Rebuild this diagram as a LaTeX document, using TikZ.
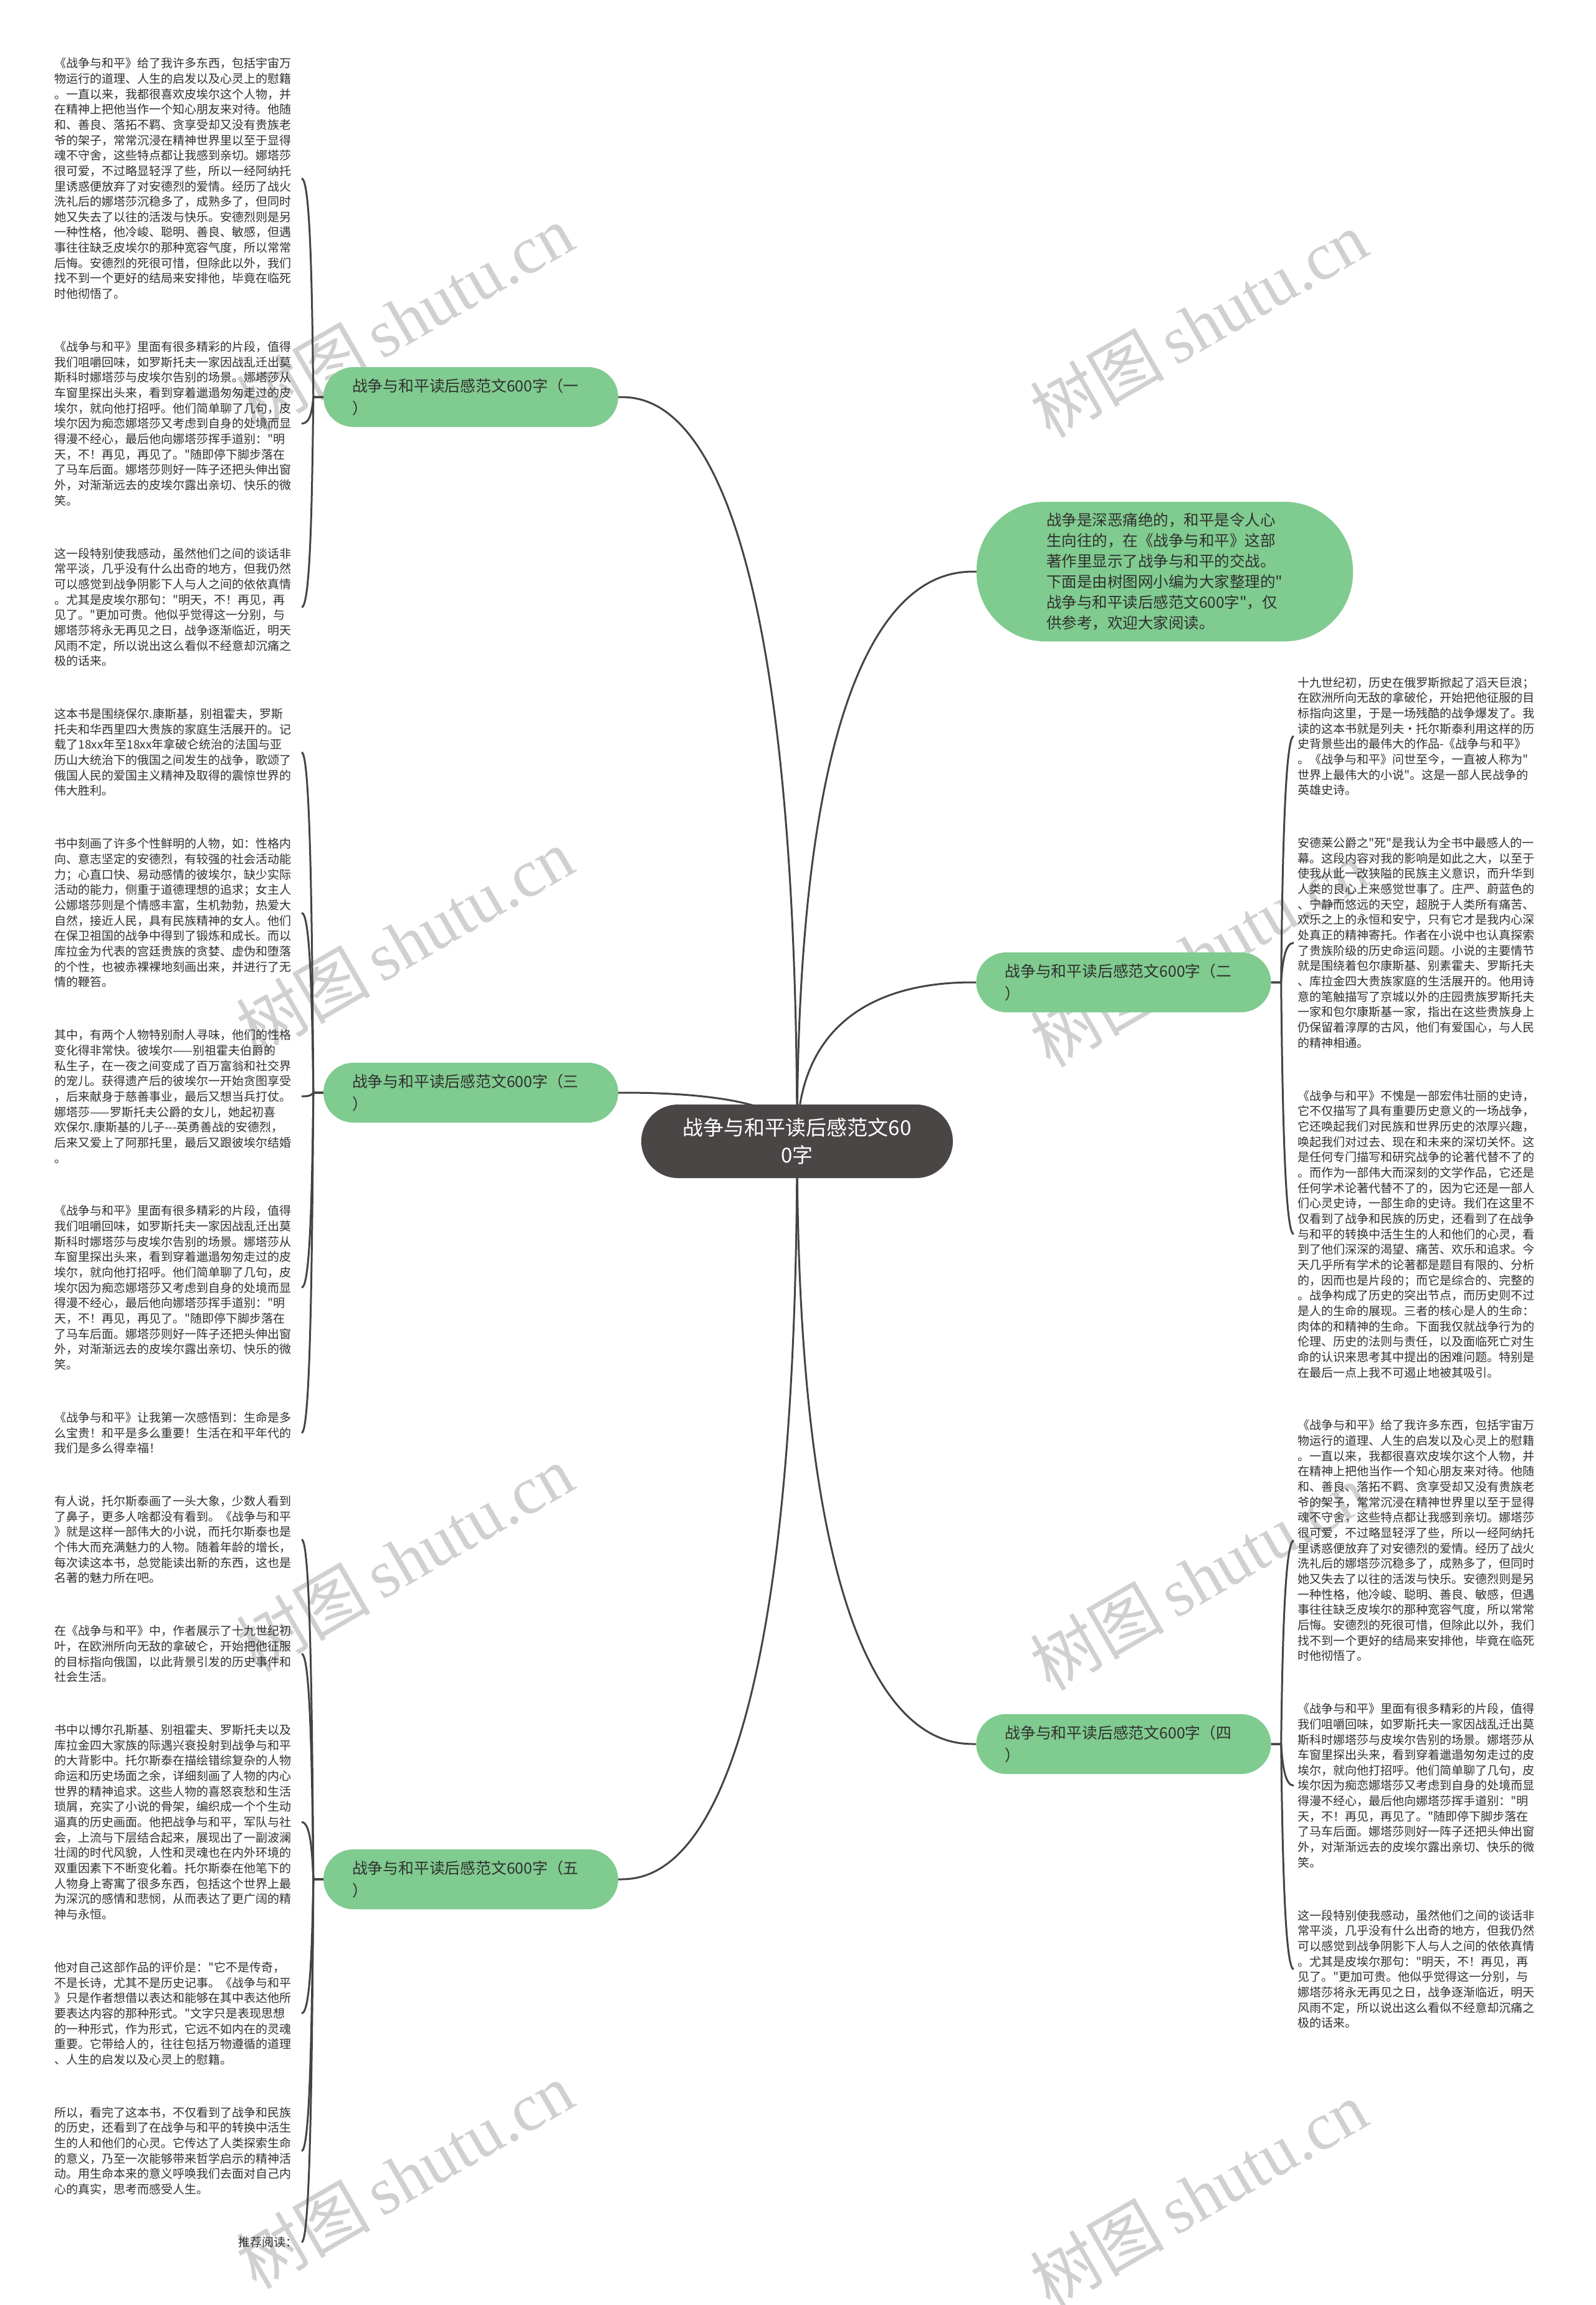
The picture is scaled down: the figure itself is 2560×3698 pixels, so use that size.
\documentclass[tikz,border=0pt]{standalone}
\usepackage{fontspec}
\setmainfont{Noto Sans CJK SC}[Ligatures=TeXOff]
\newfontfamily\wmserif{Liberation Serif}
\usetikzlibrary{calc}
\pgfdeclarelayer{bg}
\pgfsetlayers{bg,main}
\definecolor{linec}{RGB}{68,68,68}
\definecolor{branchg}{RGB}{128,203,143}
\definecolor{centerc}{RGB}{74,70,70}
\definecolor{textc}{RGB}{48,48,48}
\definecolor{wmc}{RGB}{208,208,208}
\tikzset{
  conn/.style={draw=linec, line width=3pt},
  leaf/.style={text=textc, font=\fontsize{19}{24.66}\selectfont, align=left, text width=390pt, inner xsep=6pt, inner ysep=0pt},
  leafshort/.style={text=textc, font=\fontsize{19}{24.66}\selectfont, inner xsep=6pt, inner ysep=0pt},
  branch/.style={fill=branchg, text=textc, font=\fontsize{24.8}{36}\selectfont, align=left, text width=381pt, inner xsep=46pt, inner ysep=0pt, minimum height=96pt, rounded corners=48pt},
  intro/.style={fill=branchg, text=textc, font=\fontsize{24.5}{33}\selectfont, align=left, text width=380pt, inner xsep=112pt, inner ysep=0pt, minimum height=224pt, rounded corners=110pt},
  central/.style={fill=centerc, text=white, font=\fontsize{33}{44}\selectfont, align=center, minimum width=500pt, minimum height=118pt, rounded corners=59pt},
  wm/.style={text=wmc, rotate=30, font=\fontsize{108}{108}\selectfont}
}
\newcommand\hubline[1]{\draw[conn] let \p1=(c.center), \p2=(#1) in (\p1) .. controls (\x1,\y2) and ({\x1+0.8*(\x2-\x1)},\y2) .. (\p2);}
\newcommand\leafL[2]{\draw[conn] let \p1=(#1.west), \p2=(#2.east) in (\p1) -- (\x1-16pt,\y1) .. controls (\x1-18pt,{0.5*(\y1+\y2)}) and (\x2+14pt,\y2) .. (\p2);}
\newcommand\leafR[2]{\draw[conn] let \p1=(#1.east), \p2=(#2.west) in (\p1) -- (\x1+16pt,\y1) .. controls (\x1+18pt,{0.5*(\y1+\y2)}) and (\x2-14pt,\y2) .. (\p2);}
\begin{document}
\begin{tikzpicture}[x=1pt,y=-1pt]
\useasboundingbox (0,0) rectangle (2560,3698);
\begin{pgfonlayer}{bg}
\fill[white] (0,0) rectangle (2560,3698);
\end{pgfonlayer}

% central and branches
\node[central] (c) at (1279,1831) {战争与和平读后感范文60\\0字};
\node[intro] (i) at (1869,917) {战争是深恶痛绝的，和平是令人心\\
生向往的，在《战争与和平》这部\\
著作里显示了战争与和平的交战。\\
下面是由树图网小编为大家整理的"\\
战争与和平读后感范文600字"，仅\\
供参考，欢迎大家阅读。};
\node[branch] (b1) at (755.5,637) {战争与和平读后感范文600字（一\\）};
\node[branch] (b2) at (1803,1576) {战争与和平读后感范文600字（二\\）};
\node[branch] (b3) at (755.5,1753) {战争与和平读后感范文600字（三\\）};
\node[branch] (b4) at (1803,2798) {战争与和平读后感范文600字（四\\）};
\node[branch] (b5) at (755.5,3015) {战争与和平读后感范文600字（五\\）};

% left leaves, branch one
\node[leaf, anchor=east] (l1) at (484,286.4) {《战争与和平》给了我许多东西，包括宇宙万\\
物运行的道理、人生的启发以及心灵上的慰籍\\
。一直以来，我都很喜欢皮埃尔这个人物，并\\
在精神上把他当作一个知心朋友来对待。他随\\
和、善良、落拓不羁、贪享受却又没有贵族老\\
爷的架子，常常沉浸在精神世界里以至于显得\\
魂不守舍，这些特点都让我感到亲切。娜塔莎\\
很可爱，不过略显轻浮了些，所以一经阿纳托\\
里诱惑便放弃了对安德烈的爱情。经历了战火\\
洗礼后的娜塔莎沉稳多了，成熟多了，但同时\\
她又失去了以往的活泼与快乐。安德烈则是另\\
一种性格，他冷峻、聪明、善良、敏感，但遇\\
事往往缺乏皮埃尔的那种宽容气度，所以常常\\
后悔。安德烈的死很可惜，但除此以外，我们\\
找不到一个更好的结局来安排他，毕竟在临死\\
时他彻悟了。};
\node[leaf, anchor=east] (l2) at (484,679.6) {《战争与和平》里面有很多精彩的片段，值得\\
我们咀嚼回味，如罗斯托夫一家因战乱迁出莫\\
斯科时娜塔莎与皮埃尔告别的场景。娜塔莎从\\
车窗里探出头来，看到穿着邋遢匆匆走过的皮\\
埃尔，就向他打招呼。他们简单聊了几句，皮\\
埃尔因为痴恋娜塔莎又考虑到自身的处境而显\\
得漫不经心，最后他向娜塔莎挥手道别："明\\
天，不！再见，再见了。"随即停下脚步落在\\
了马车后面。娜塔莎则好一阵子还把头伸出窗\\
外，对渐渐远去的皮埃尔露出亲切、快乐的微\\
笑。};
\node[leaf, anchor=east] (l3) at (484,974.1) {这一段特别使我感动，虽然他们之间的谈话非\\
常平淡，几乎没有什么出奇的地方，但我仍然\\
可以感觉到战争阴影下人与人之间的依依真情\\
。尤其是皮埃尔那句："明天，不！再见，再\\
见了。"更加可贵。他似乎觉得这一分别，与\\
娜塔莎将永无再见之日，战争逐渐临近，明天\\
风雨不定，所以说出这么看似不经意却沉痛之\\
极的话来。};

% left leaves, branch three
\node[leaf, anchor=east] (l4) at (484,1207.0) {这本书是围绕保尔.康斯基，别祖霍夫，罗斯\\
托夫和华西里四大贵族的家庭生活展开的。记\\
载了18xx年至18xx年拿破仑统治的法国与亚\\
历山大统治下的俄国之间发生的战争，歌颂了\\
俄国人民的爱国主义精神及取得的震惊世界的\\
伟大胜利。};
\node[leaf, anchor=east] (l5) at (484,1464.5) {书中刻画了许多个性鲜明的人物，如：性格内\\
向、意志坚定的安德烈，有较强的社会活动能\\
力；心直口快、易动感情的彼埃尔，缺少实际\\
活动的能力，侧重于道德理想的追求；女主人\\
公娜塔莎则是个情感丰富，生机勃勃，热爱大\\
自然，接近人民，具有民族精神的女人。他们\\
在保卫祖国的战争中得到了锻炼和成长。而以\\
库拉金为代表的宫廷贵族的贪婪、虚伪和堕落\\
的个性，也被赤裸裸地刻画出来，并进行了无\\
情的鞭笞。};
\node[leaf, anchor=east] (l6) at (484,1759.0) {其中，有两个人物特别耐人寻味，他们的性格\\
变化得非常快。彼埃尔——别祖霍夫伯爵的\\
私生子，在一夜之间变成了百万富翁和社交界\\
的宠儿。获得遗产后的彼埃尔一开始贪图享受\\
，后来献身于慈善事业，最后又想当兵打仗。\\
娜塔莎——罗斯托夫公爵的女儿，她起初喜\\
欢保尔.康斯基的儿子-\kern0pt-\kern0pt-英勇善战的安德烈，\\
后来又爱上了阿那托里，最后又跟彼埃尔结婚\\
。};
\node[leaf, anchor=east] (l7) at (484,2065.8) {《战争与和平》里面有很多精彩的片段，值得\\
我们咀嚼回味，如罗斯托夫一家因战乱迁出莫\\
斯科时娜塔莎与皮埃尔告别的场景。娜塔莎从\\
车窗里探出头来，看到穿着邋遢匆匆走过的皮\\
埃尔，就向他打招呼。他们简单聊了几句，皮\\
埃尔因为痴恋娜塔莎又考虑到自身的处境而显\\
得漫不经心，最后他向娜塔莎挥手道别："明\\
天，不！再见，再见了。"随即停下脚步落在\\
了马车后面。娜塔莎则好一阵子还把头伸出窗\\
外，对渐渐远去的皮埃尔露出亲切、快乐的微\\
笑。};
\node[leaf, anchor=east] (l8) at (484,2298.7) {《战争与和平》让我第一次感悟到：生命是多\\
么宝贵！和平是多么重要！生活在和平年代的\\
我们是多么得幸福！};

% left leaves, branch five
\node[leaf, anchor=east] (l9) at (484,2469.9) {有人说，托尔斯泰画了一头大象，少数人看到\\
了鼻子，更多人啥都没有看到。《战争与和平\\
》就是这样一部伟大的小说，而托尔斯泰也是\\
个伟大而充满魅力的人物。随着年龄的增长，\\
每次读这本书，总觉能读出新的东西，这也是\\
名著的魅力所在吧。};
\node[leaf, anchor=east] (l10) at (484,2653.4) {在《战争与和平》中，作者展示了十九世纪初\\
叶，在欧洲所向无敌的拿破仑，开始把他征服\\
的目标指向俄国，以此背景引发的历史事件和\\
社会生活。};
\node[leaf, anchor=east] (l11) at (484,2923.3) {书中以博尔孔斯基、别祖霍夫、罗斯托夫以及\\
库拉金四大家族的际遇兴衰投射到战争与和平\\
的大背影中。托尔斯泰在描绘错综复杂的人物\\
命运和历史场面之余，详细刻画了人物的内心\\
世界的精神追求。这些人物的喜怒哀愁和生活\\
琐屑，充实了小说的骨架，编织成一个个生动\\
逼真的历史画面。他把战争与和平，军队与社\\
会，上流与下层结合起来，展现出了一副波澜\\
壮阔的时代风貌，人性和灵魂也在内外环境的\\
双重因素下不断变化着。托尔斯泰在他笔下的\\
人物身上寄寓了很多东西，包括这个世界上最\\
为深沉的感情和悲悯，从而表达了更广阔的精\\
神与永恒。};
\node[leaf, anchor=east] (l12) at (484,3230.1) {他对自己这部作品的评价是："它不是传奇，\\
不是长诗，尤其不是历史记事。《战争与和平\\
》只是作者想借以表达和能够在其中表达他所\\
要表达内容的那种形式。"文字只是表现思想\\
的一种形式，作为形式，它远不如内在的灵魂\\
重要。它带给人的，往往包括万物遵循的道理\\
、人生的启发以及心灵上的慰籍。};
\node[leaf, anchor=east] (l13) at (484,3450.7) {所以，看完了这本书，不仅看到了战争和民族\\
的历史，还看到了在战争与和平的转换中活生\\
生的人和他们的心灵。它传达了人类探索生命\\
的意义，乃至一次能够带来哲学启示的精神活\\
动。用生命本来的意义呼唤我们去面对自己内\\
心的真实，思考而感受人生。};
\node[leafshort, anchor=east] (l14) at (484,3597.2) {推荐阅读：};

% right leaves, branch two
\node[leaf, anchor=west] (r1) at (2076,1181.1) {十九世纪初，历史在俄罗斯掀起了滔天巨浪；\\
在欧洲所向无敌的拿破伦，开始把他征服的目\\
标指向这里，于是一场残酷的战争爆发了。我\\
读的这本书就是列夫·托尔斯泰利用这样的历\\
史背景些出的最伟大的作品-《战争与和平》\\
。《战争与和平》问世至今，一直被人称为"\\
世界上最伟大的小说"。这是一部人民战争的\\
英雄史诗。};
\node[leaf, anchor=west] (r2) at (2076,1512.6) {安德莱公爵之"死"是我认为全书中最感人的一\\
幕。这段内容对我的影响是如此之大，以至于\\
使我从此一改狭隘的民族主义意识，而升华到\\
人类的良心上来感觉世事了。庄严、蔚蓝色的\\
、宁静而悠远的天空，超脱于人类所有痛苦、\\
欢乐之上的永恒和安宁，只有它才是我内心深\\
处真正的精神寄托。作者在小说中也认真探索\\
了贵族阶级的历史命运问题。小说的主要情节\\
就是围绕着包尔康斯基、别素霍夫、罗斯托夫\\
、库拉金四大贵族家庭的生活展开的。他用诗\\
意的笔触描写了京城以外的庄园贵族罗斯托夫\\
一家和包尔康斯基一家，指出在这些贵族身上\\
仍保留着淳厚的古风，他们有爱国心，与人民\\
的精神相通。};
\node[leaf, anchor=west] (r3) at (2076,1979.8) {《战争与和平》不愧是一部宏伟壮丽的史诗，\\
它不仅描写了具有重要历史意义的一场战争，\\
它还唤起我们对民族和世界历史的浓厚兴趣，\\
唤起我们对过去、现在和未来的深切关怀。这\\
是任何专门描写和研究战争的论著代替不了的\\
。而作为一部伟大而深刻的文学作品，它还是\\
任何学术论著代替不了的，因为它还是一部人\\
们心灵史诗，一部生命的史诗。我们在这里不\\
仅看到了战争和民族的历史，还看到了在战争\\
与和平的转换中活生生的人和他们的心灵，看\\
到了他们深深的渴望、痛苦、欢乐和追求。今\\
天几乎所有学术的论著都是题目有限的、分析\\
的，因而也是片段的；而它是综合的、完整的\\
。战争构成了历史的突出节点，而历史则不过\\
是人的生命的展现。三者的核心是人的生命：\\
肉体的和精神的生命。下面我仅就战争行为的\\
伦理、历史的法则与责任，以及面临死亡对生\\
命的认识来思考其中提出的困难问题。特别是\\
在最后一点上我不可遏止地被其吸引。};

% right leaves, branch four
\node[leaf, anchor=west] (r4) at (2076,2471.6) {《战争与和平》给了我许多东西，包括宇宙万\\
物运行的道理、人生的启发以及心灵上的慰籍\\
。一直以来，我都很喜欢皮埃尔这个人物，并\\
在精神上把他当作一个知心朋友来对待。他随\\
和、善良、落拓不羁、贪享受却又没有贵族老\\
爷的架子，常常沉浸在精神世界里以至于显得\\
魂不守舍，这些特点都让我感到亲切。娜塔莎\\
很可爱，不过略显轻浮了些，所以一经阿纳托\\
里诱惑便放弃了对安德烈的爱情。经历了战火\\
洗礼后的娜塔莎沉稳多了，成熟多了，但同时\\
她又失去了以往的活泼与快乐。安德烈则是另\\
一种性格，他冷峻、聪明、善良、敏感，但遇\\
事往往缺乏皮埃尔的那种宽容气度，所以常常\\
后悔。安德烈的死很可惜，但除此以外，我们\\
找不到一个更好的结局来安排他，毕竟在临死\\
时他彻悟了。};
\node[leaf, anchor=west] (r5) at (2076,2864.7) {《战争与和平》里面有很多精彩的片段，值得\\
我们咀嚼回味，如罗斯托夫一家因战乱迁出莫\\
斯科时娜塔莎与皮埃尔告别的场景。娜塔莎从\\
车窗里探出头来，看到穿着邋遢匆匆走过的皮\\
埃尔，就向他打招呼。他们简单聊了几句，皮\\
埃尔因为痴恋娜塔莎又考虑到自身的处境而显\\
得漫不经心，最后他向娜塔莎挥手道别："明\\
天，不！再见，再见了。"随即停下脚步落在\\
了马车后面。娜塔莎则好一阵子还把头伸出窗\\
外，对渐渐远去的皮埃尔露出亲切、快乐的微\\
笑。};
\node[leaf, anchor=west] (r6) at (2076,3159.2) {这一段特别使我感动，虽然他们之间的谈话非\\
常平淡，几乎没有什么出奇的地方，但我仍然\\
可以感觉到战争阴影下人与人之间的依依真情\\
。尤其是皮埃尔那句："明天，不！再见，再\\
见了。"更加可贵。他似乎觉得这一分别，与\\
娜塔莎将永无再见之日，战争逐渐临近，明天\\
风雨不定，所以说出这么看似不经意却沉痛之\\
极的话来。};

\begin{pgfonlayer}{bg}
% watermarks
\node[wm] (w1) at (649,510) {树图\,{\wmserif shutu.cn}};
\node[wm] (w2) at (1923,520) {树图\,{\wmserif shutu.cn}};
\node[wm] (w3) at (649,1510) {树图\,{\wmserif shutu.cn}};
\node[wm] (w4) at (1923,1530) {树图\,{\wmserif shutu.cn}};
\node[wm] (w5) at (649,2500) {树图\,{\wmserif shutu.cn}};
\node[wm] (w6) at (1923,2530) {树图\,{\wmserif shutu.cn}};
\node[wm] (w7) at (649,3490) {树图\,{\wmserif shutu.cn}};
\node[wm] (w8) at (1923,3520) {树图\,{\wmserif shutu.cn}};
% hub connectors
\hubline{i.west}
\hubline{b1.east}
\hubline{b2.west}
\hubline{b3.east}
\hubline{b4.west}
\hubline{b5.east}
% leaf connectors
\leafL{b1}{l1}
\leafL{b1}{l2}
\leafL{b1}{l3}
\leafL{b3}{l4}
\leafL{b3}{l5}
\leafL{b3}{l6}
\leafL{b3}{l7}
\leafL{b3}{l8}
\leafL{b5}{l9}
\leafL{b5}{l10}
\leafL{b5}{l11}
\leafL{b5}{l12}
\leafL{b5}{l13}
\leafL{b5}{l14}
\leafR{b2}{r1}
\leafR{b2}{r2}
\leafR{b2}{r3}
\leafR{b4}{r4}
\leafR{b4}{r5}
\leafR{b4}{r6}
\end{pgfonlayer}
\end{tikzpicture}
\end{document}
